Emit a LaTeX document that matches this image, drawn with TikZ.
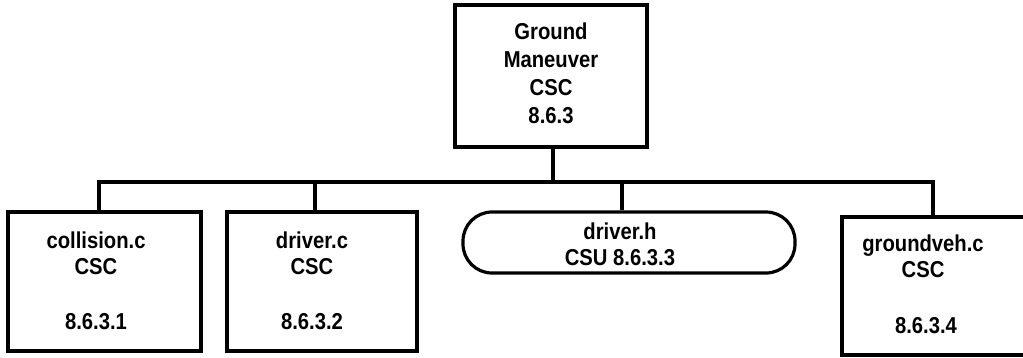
\documentclass[tikz,border=0pt]{standalone}
\usepackage{fontspec}
\setmainfont{Liberation Sans}[FakeStretch=0.88]
\begin{document}
\begin{tikzpicture}[x=1pt,y=-1pt,
  frame/.style={draw=black,line width=3.2pt,inner sep=0pt},
  txt/.style={font=\fontsize{23}{26}\selectfont\bfseries,align=center,inner sep=0pt},
  wire/.style={draw=black,line width=3.2pt}]
\useasboundingbox (0,0) rectangle (1023,357);
% boxes
\node[frame,minimum width=192pt,minimum height=142pt] (top) at (551,76) {};
\node[frame,minimum width=193pt,minimum height=139pt] (coll) at (104.5,281.5) {};
\node[frame,minimum width=190pt,minimum height=139pt] (drvc) at (322,281.5) {};
\node[frame,rounded corners=29pt,minimum width=332pt,minimum height=61pt] (drvh) at (629,242.5) {};
\node[frame,minimum width=190pt,minimum height=138pt] (gveh) at (937,286) {};
% texts
\node[txt] (toptxt) at (551,73) {Ground\\[2pt]Maneuver\\[2pt]CSC\\[2pt]8.6.3};
\node[txt] (colltxt) at (96,253) {collision.c\\CSC};
\node[txt] (collnum) at (96,322) {8.6.3.1};
\node[txt] (drvctxt) at (312,253) {driver.c\\CSC};
\node[txt] (drvcnum) at (312,322) {8.6.3.2};
\node[txt] (drvhtxt) at (620,244.5) {driver.h\\CSU 8.6.3.3};
\node[txt] (gvehtxt) at (923,256) {groundveh.c\\CSC};
\node[txt] (gvehnum) at (926,326) {8.6.3.4};
% connectors
\coordinate (bus) at (553,182);
\draw[wire] (top.south -| bus) -- (bus);
\draw[wire,line join=miter] (coll.north -| 99,0) |- (bus) -| (gveh.north -| 933,0);
\draw[wire] (drvc.north -| 315,0) -- (315,182);
\draw[wire] (drvh.north -| 622,0) -- (622,182);
\end{tikzpicture}
\end{document}
